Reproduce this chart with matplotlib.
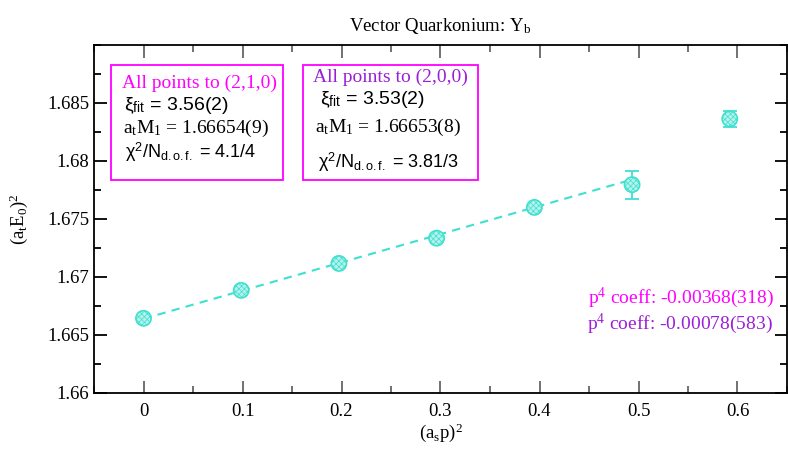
import matplotlib
matplotlib.use("Agg")
import matplotlib.pyplot as plt
from matplotlib.patches import Rectangle
from matplotlib.ticker import MultipleLocator

plt.rcParams['font.family'] = ['Liberation Serif', 'DejaVu Serif']
plt.rcParams['mathtext.fontset'] = 'custom'
plt.rcParams['mathtext.rm'] = 'Liberation Serif'
plt.rcParams['mathtext.it'] = 'Liberation Serif:italic'
plt.rcParams['mathtext.sf'] = 'Liberation Sans'
plt.rcParams['hatch.linewidth'] = 0.5

# data
p2 = [0.0, 0.0987, 0.1974, 0.2961, 0.3948, 0.4935, 0.5922]
E2 = [1.66644, 1.66885, 1.67117, 1.67335, 1.67600, 1.67796, 1.68363]
E2_err = [0.0002, 0.0002, 0.0002, 0.0002, 0.0002, 0.0012, 0.0007]
fit_x = [0.0, 0.4935]
fit_y = [1.6664, 1.6784]

xticks = [0, 0.1, 0.2, 0.3, 0.4, 0.5, 0.6]
yticks = [1.66, 1.665, 1.67, 1.675, 1.68, 1.685]

box1 = ["All points to (2,1,0)", "3.56(2)", "1.66654(9)", "4.1/4"]
box2 = ["All points to (2,0,0)", "3.53(2)", "1.66653(8)", "3.81/3"]
p4_labels = ["-0.00368(318)", "-0.00078(583)"]

turq = '#40e0d0'
magenta = '#ff00ff'
purple = '#9a1fd6'

W, H = 788, 449
fig = plt.figure(figsize=(W / 100, H / 100), dpi=100)
ax = fig.add_axes([94 / W, 1 - 393 / H, (787 - 94) / W, (393 - 45) / H])

ax.plot(fit_x, fit_y, color=turq, lw=1.5, dashes=[4, 3], zorder=2)
ax.errorbar(p2, E2, yerr=E2_err, fmt='none', ecolor=turq, elinewidth=1.3,
            capsize=5, capthick=1.3, zorder=3)
ax.scatter(p2, E2, s=120, facecolor='#b4f2eb', edgecolor=turq, hatch='xxxxxx',
           linewidth=1.2, zorder=4)

ax.set_xlim(-0.05, 0.65)
ax.set_ylim(1.66, 1.69)
ax.set_xticks(xticks)
ax.set_xticklabels(['0', '0.1', '0.2', '0.3', '0.4', '0.5', '0.6'])
ax.set_yticks(yticks)
ax.set_yticklabels(['1.66', '1.665', '1.67', '1.675', '1.68', '1.685'])
ax.xaxis.set_minor_locator(MultipleLocator(0.05))
ax.yaxis.set_minor_locator(MultipleLocator(0.0025))
ax.tick_params(which='both', direction='in', top=True, right=True, labelsize=13.5, width=1.3)
ax.tick_params(which='major', length=9)
ax.tick_params(which='minor', length=5)
ax.tick_params(axis='x', which='both', colors='#666666', labelcolor='black')
ax.tick_params(axis='x', pad=7)
for s in ax.spines.values():
    s.set_linewidth(1.3)

ax.set_xlabel(r'(a$_\mathrm{s}$p)$^2$', fontsize=13.5, labelpad=1)
ax.set_ylabel(r'(a$_\mathrm{t}$E$_0$)$^2$', fontsize=13.5, labelpad=12)
ax.set_title(r'Vector Quarkonium: Y$_\mathrm{b}$', fontsize=13.5, pad=10)


def fx(x):
    return x / W


def fy(y):
    return 1 - y / H


# boxes
for (l, t, r, b) in [(111, 65, 283, 180), (303, 65, 478, 180)]:
    fig.patches.append(Rectangle((fx(l), fy(b)), (r - l) / W, (b - t) / H,
                                 transform=fig.transFigure, fill=False,
                                 edgecolor=magenta, lw=1.3, zorder=5))

sans = 'Liberation Sans'
fig.text(fx(122), fy(83), box1[0], color=magenta, fontsize=14, va='center')
fig.text(fx(124), fy(105), r'ξ$_\mathsf{fit}$ = ' + box1[1], family=sans, fontsize=14, va='center')
fig.text(fx(123), fy(128), r'a$_\mathrm{t}$M$_\mathrm{1}$ = ' + box1[2], fontsize=14, va='center')
fig.text(fx(125), fy(152), r'χ$^\mathsf{2}$/N$_\mathsf{d.o.f.}$ = ' + box1[3], family=sans, fontsize=13, va='center')

fig.text(fx(313), fy(77), box2[0], color=purple, fontsize=14, va='center')
fig.text(fx(320), fy(100), r'ξ$_\mathsf{fit}$ = ' + box2[1], family=sans, fontsize=14, va='center')
fig.text(fx(315), fy(127), r'a$_\mathrm{t}$M$_\mathrm{1}$ = ' + box2[2], fontsize=14, va='center')
fig.text(fx(318), fy(162), r'χ$^\mathsf{2}$/N$_\mathsf{d.o.f.}$ = ' + box2[3], family=sans, fontsize=13, va='center')

fig.text(fx(588), fy(298), r'p$^4$ coeff: ' + p4_labels[0], color=magenta, fontsize=14, va='center')
fig.text(fx(587), fy(324), r'p$^4$ coeff: ' + p4_labels[1], color=purple, fontsize=14, va='center')

fig.savefig('out.png', dpi=100)
